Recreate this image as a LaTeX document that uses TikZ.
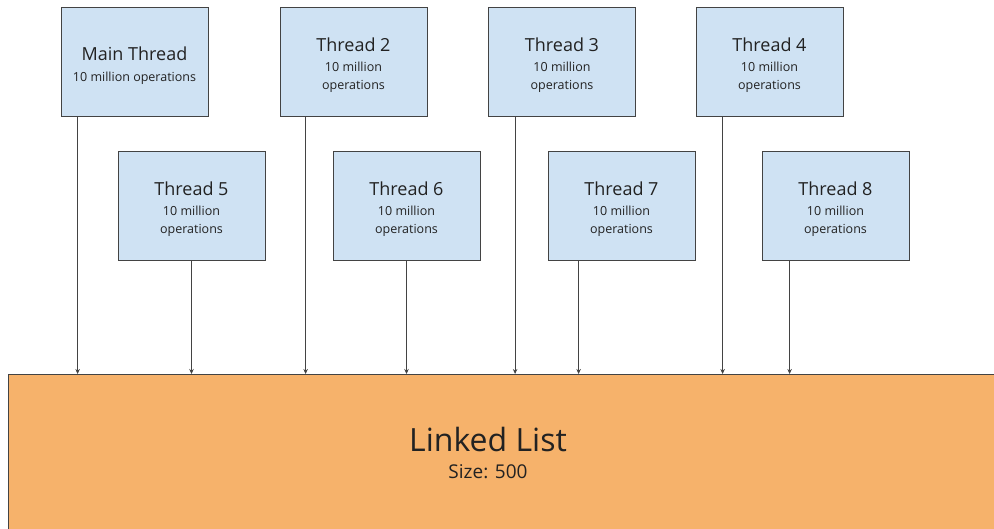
\documentclass[tikz,border=0pt]{standalone}
\usepackage{fontspec}
\setmainfont{Open Sans}
\usetikzlibrary{arrows.meta}
\definecolor{boxfill}{HTML}{CFE2F3}
\definecolor{boxline}{HTML}{434343}
\definecolor{listfill}{HTML}{F6B26B}
\definecolor{inktext}{HTML}{222222}
\tikzset{
  thread/.style={draw=boxline, line width=0.8pt, fill=boxfill, minimum width=147pt,
    minimum height=109pt, inner sep=0pt},
  txt/.style={yshift=-4pt, inner sep=0pt, align=center, text=inktext,
    font=\fontsize{12.5}{18}\selectfont},
  conn/.style={draw=boxline, line width=0.8pt, -{Stealth[length=5pt,width=4.5pt]}},
}
% fonts of the lines in the boxes
\newcommand{\ttl}[1]{\fontsize{18}{18}\selectfont #1}
\newcommand{\sml}[1]{\fontsize{12.5}{18}\selectfont #1}
\begin{document}
\begin{tikzpicture}[x=1pt, y=-1pt]
  \useasboundingbox (0,0) rectangle (994,529);
  \begin{scope}
    \clip (0,0) rectangle (994,529);
    \node[draw=boxline, line width=0.9pt, fill=listfill, minimum width=1000pt, minimum height=170pt,
      inner sep=0pt, anchor=north west] (list) at (8,374) {};
  \end{scope}
  \node[text=inktext, align=center, font=\fontsize{19}{27}\selectfont] (listlabel) at (488,453)
    {\fontsize{32}{27}\selectfont Linked List\\\fontsize{19}{27}\selectfont Size: 500};

  \node[thread, label={[txt]center:{\ttl{Main Thread}\\[3pt]\sml{10 million operations}}}] (t1) at (134.5,61.5) {};
  \node[thread, label={[txt]center:{\ttl{Thread 2}\\[2pt]\sml{10 million}\\\sml{operations}}}] (t2) at (353.5,61.5) {};
  \node[thread, label={[txt]center:{\ttl{Thread 3}\\[2pt]\sml{10 million}\\\sml{operations}}}] (t3) at (562,61.5) {};
  \node[thread, label={[txt]center:{\ttl{Thread 4}\\[2pt]\sml{10 million}\\\sml{operations}}}] (t4) at (769.5,61.5) {};
  \node[thread, label={[txt]center:{\ttl{Thread 5}\\[2pt]\sml{10 million}\\\sml{operations}}}] (t5) at (191.5,205.5) {};
  \node[thread, label={[txt]center:{\ttl{Thread 6}\\[2pt]\sml{10 million}\\\sml{operations}}}] (t6) at (406.5,205.5) {};
  \node[thread, label={[txt]center:{\ttl{Thread 7}\\[2pt]\sml{10 million}\\\sml{operations}}}] (t7) at (621.5,205.5) {};
  \node[thread, label={[txt]center:{\ttl{Thread 8}\\[2pt]\sml{10 million}\\\sml{operations}}}] (t8) at (835.5,205.5) {};

  \draw[conn] ([xshift=17pt]t1.south west) coordinate (c1) -- (c1 |- list.north);
  \draw[conn] (t5.south) -- (t5.south |- list.north);
  \draw[conn] ([xshift=26pt]t2.south west) coordinate (c2) -- (c2 |- list.north);
  \draw[conn] (t6.south) -- (t6.south |- list.north);
  \draw[conn] ([xshift=27pt]t3.south west) coordinate (c3) -- (c3 |- list.north);
  \draw[conn] ([xshift=31pt]t7.south west) coordinate (c7) -- (c7 |- list.north);
  \draw[conn] ([xshift=27pt]t4.south west) coordinate (c4) -- (c4 |- list.north);
  \draw[conn] ([xshift=28pt]t8.south west) coordinate (c8) -- (c8 |- list.north);
\end{tikzpicture}
\end{document}
